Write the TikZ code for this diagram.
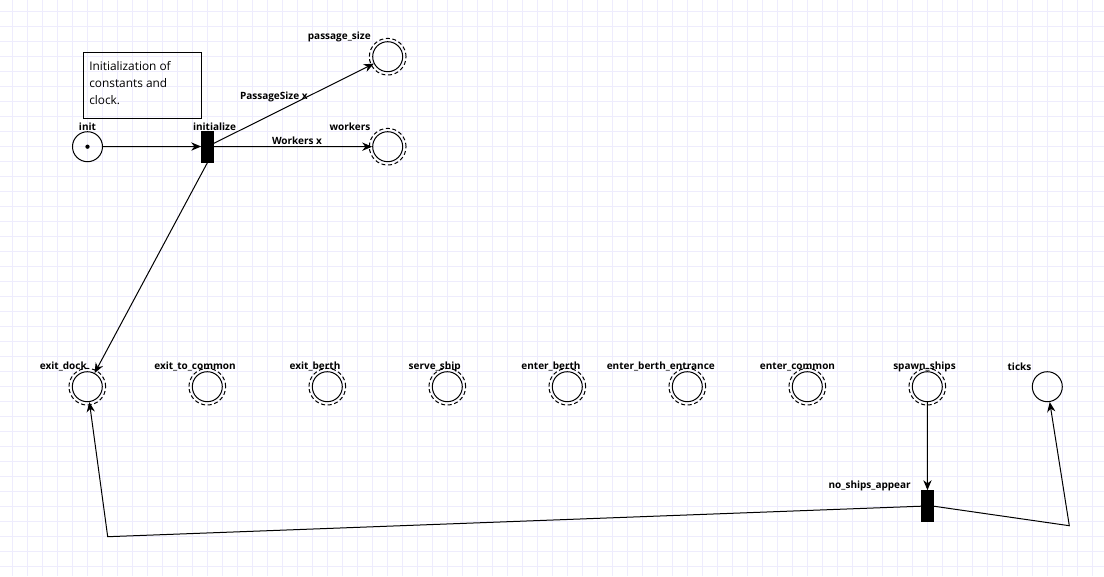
\documentclass[tikz,border=0pt]{standalone}
\usepackage{fontspec}
\setmainfont{Open Sans}
\usetikzlibrary{arrows.meta}
\definecolor{gridc}{RGB}{238,236,253}
\tikzset{
  place/.style={circle,draw,line width=0.75pt,minimum size=22.5pt,inner sep=0pt},
  trans/.style={rectangle,draw,fill=black,line width=0.75pt,minimum width=8.7pt,minimum height=23.25pt,inner sep=0pt},
  lbl/.style={font=\bfseries\fontsize{7.5pt}{9pt}\selectfont,inner sep=0pt},
  arr/.style={line width=0.75pt,-{Stealth[length=7.5pt,width=6.2pt,inset=2.4pt]}},
  ring/.style={line width=0.75pt,dash pattern=on 3pt off 2pt},
  note/.style={rectangle,draw,line width=0.75pt,minimum width=88.5pt,minimum height=49.5pt,inner sep=0pt}
}
\begin{document}
\begin{tikzpicture}[x=0.75pt,y=-0.75pt]
\useasboundingbox (0,0) rectangle (1104,576);
\fill[white] (0,0) rectangle (1104,576);
\foreach \gx in {12.5,27.5,...,1104} \draw[gridc,line width=0.75pt] (\gx,0) -- (\gx,576);
\foreach \gy in {11,26,...,576} \draw[gridc,line width=0.75pt] (0,\gy) -- (1104,\gy);

% note box
\node[note] (box) at (142.5,85.3) {};
\node[anchor=north west,align=left,inner sep=0pt,font=\fontsize{8.9pt}{12.5pt}\selectfont] (boxtext) at (89,61.5) {Initialization of\\constants and\\clock.};

% places
\node[place] (init) at (87.5,146.7) {};
\fill (init.center) circle[radius=1.6pt];
\node[place] (passage) at (387.7,56.7) {};
\draw[ring] (passage.center) circle[radius=13.75pt];
\node[place] (workers) at (387.7,146.7) {};
\draw[ring] (workers.center) circle[radius=13.75pt];

\foreach \nm/\xx in {exitdock/87.3,exittocommon/207.3,exitberth/327.3,serveship/447.3,enterberth/567.3,enterberthentrance/687.3,entercommon/807.3,spawnships/927.3}{
  \node[place] (\nm) at (\xx,386.7) {};
  \draw[ring] (\nm.center) circle[radius=13.75pt];
}
\node[place] (ticks) at (1047.3,386.7) {};

% transitions
\node[trans] (initialize) at (207.5,146.5) {};
\node[trans] (noships) at (927.5,506.2) {};

% labels
\node[lbl] (linit) at (87.5,127) {init};
\node[lbl] (linitialize) at (214.5,127) {initialize};
\node[lbl] (lpassage) at (339.3,36.7) {passage\_size};
\node[lbl] (lworkers) at (350,126.7) {workers};
\node[lbl] (lpsx) at (273.8,96.7) {PassageSize x};
\node[lbl] (lwx) at (297,141) {Workers x};
\node[lbl] (lexitdock) at (63.3,366.7) {exit\_dock};
\node[lbl] (lexittocommon) at (195,366.7) {exit\_to\_common};
\node[lbl] (lexitberth) at (315,366.7) {exit\_berth};
\node[lbl] (lserveship) at (434.7,366.7) {serve\_ship};
\node[lbl] (lenterberth) at (551,366.7) {enter\_berth};
\node[lbl] (lenterberthentrance) at (660.8,366.7) {enter\_berth\_entrance};
\node[lbl] (lentercommon) at (797.5,366.7) {enter\_common};
\node[lbl] (lspawnships) at (924.5,366.7) {spawn\_ships};
\node[lbl] (lticks) at (1019.5,366.7) {ticks};
\node[lbl] (lnoships) at (869.7,486) {no\_ships\_appear};

% corner points
\coordinate (c1) at (107.7,536.7);
\coordinate (c2) at (1069.3,525.7);

% arcs
\draw[arr] (init) -- (initialize);
\draw[arr] (initialize) -- (passage);
\draw[arr] (initialize) -- (workers);
\draw[arr] (initialize.south) -- (exitdock);
\draw[arr] (spawnships) -- (noships);
\draw[arr] (noships.west) -- (c1) -- (exitdock);
\draw[arr] (noships.east) -- (c2) -- (ticks);
\end{tikzpicture}
\end{document}
